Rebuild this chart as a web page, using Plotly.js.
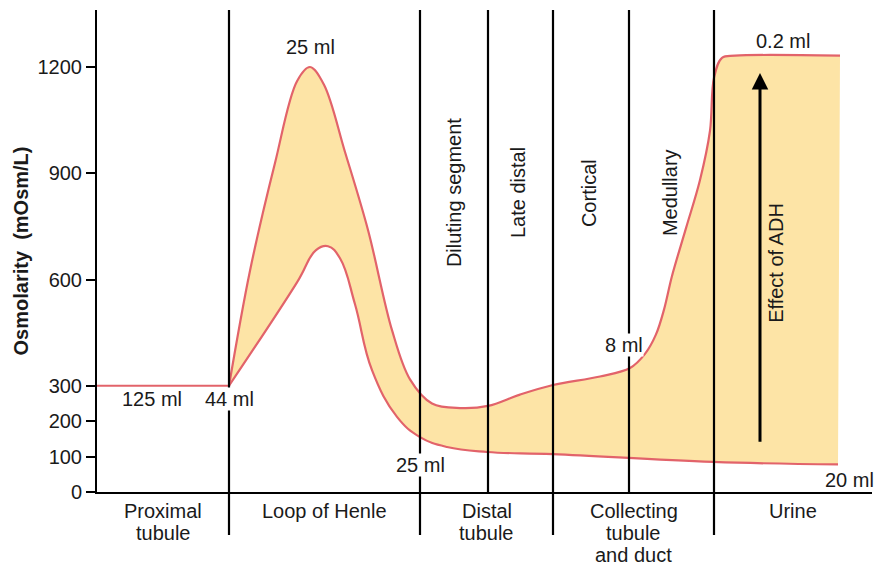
<!DOCTYPE html>
<html>
<head>
<meta charset="utf-8">
<script src="https://cdn.plot.ly/plotly-3.0.1.min.js"></script>
<style>
  html, body { margin: 0; padding: 0; background: #ffffff; }
  #chart { width: 875px; height: 567px; }
</style>
</head>
<body>
<div id="chart"></div>
<script>
// ---- Data (position along nephron in arbitrary units, osmolarity in mOsm/L) ----
const proximalX = [97, 229];
const proximalY = [300, 300];

const upperX = [229, 250, 275, 297, 310, 324, 345, 368, 392, 410, 432, 460, 488, 520, 553, 600, 630, 645, 656, 664, 672, 686, 700, 710, 714, 722, 735, 840];
const upperY = [300, 625, 929, 1160, 1200, 1150, 960, 740, 457, 318, 250, 237, 243, 275, 302, 326, 350, 390, 445, 515, 610, 745, 881, 1020, 1170, 1226, 1232, 1232];

const lowerX = [229, 297, 316, 328, 340, 355, 372, 397, 420, 447, 487, 553, 713, 838];
const lowerY = [300, 592, 683, 694, 660, 530, 344, 212, 155, 127, 113, 107, 85, 78];

const yTicks = [0, 100, 200, 300, 600, 900, 1200];

const segmentBounds = [97, 229, 420, 553, 714, 872];
const segmentLabels = ['Proximal<br>tubule', 'Loop of Henle', 'Distal<br>tubule', 'Collecting<br>tubule<br>and duct', 'Urine'];
const subBounds = [488, 629];

const subLabels = ['Diluting segment', 'Late distal', 'Cortical', 'Medullary'];
const subLabelX = [454, 518, 589, 670];

const volumeLabels = ['25 ml', '125 ml', '44 ml', '25 ml', '8 ml', '0.2 ml', '20 ml'];
const volumeX = [310, 152, 229, 420, 624, 783, 849];
const volumeY = [1256, 262, 262, 76, 415, 1273, 34];

const adhLabel = 'Effect of ADH';
const adhArrowX = 760;
const adhArrowFrom = 138;
const adhArrowTo = 1183;

// ---- Styles ----
const RED = '#e2636a';
const FILL = '#fde4a6';
const INK = '#1a1a1a';
const FONT = 'Liberation Sans, Arial, sans-serif';

const traces = [
  { x: proximalX, y: proximalY, mode: 'lines', line: { color: RED, width: 2.2 }, hoverinfo: 'skip' },
  { x: lowerX, y: lowerY, mode: 'lines', line: { color: RED, width: 2.2, shape: 'spline', smoothing: 1.2 }, hoverinfo: 'skip' },
  { x: upperX, y: upperY, mode: 'lines', fill: 'tonexty', fillcolor: FILL, line: { color: RED, width: 2.2, shape: 'spline', smoothing: 1 }, hoverinfo: 'skip' }
];

const shapes = [];
const majorB = segmentBounds.slice(1, -1);
majorB.forEach(b => shapes.push({ type: 'line', xref: 'x', yref: 'paper', x0: b, x1: b, y0: -0.089, y1: 1, line: { color: '#000', width: 2.2 }, layer: 'above' }));
subBounds.forEach(b => shapes.push({ type: 'line', xref: 'x', yref: 'paper', x0: b, x1: b, y0: 0, y1: 1, line: { color: '#000', width: 2.2 }, layer: 'above' }));

const annotations = [];
// segment labels under the axis
const linePaperY = [-0.040, -0.086, -0.131];
segmentLabels.forEach((lab, i) => {
  const cx = (segmentBounds[i] + segmentBounds[i + 1]) / 2;
  lab.split('<br>').forEach((ln, j) => {
    annotations.push({ text: ln, x: cx, y: linePaperY[j], xref: 'x', yref: 'paper', showarrow: false, xanchor: 'center', yanchor: 'middle', font: { family: FONT, size: 20, color: INK } });
  });
});
// rotated sub-segment labels
subLabels.forEach((lab, i) => {
  annotations.push({ text: lab, x: subLabelX[i], y: 844, xref: 'x', yref: 'y', showarrow: false, textangle: -90, xanchor: 'center', yanchor: 'middle', font: { family: FONT, size: 20, color: INK } });
});
// volume labels
volumeLabels.forEach((lab, i) => {
  annotations.push({ text: lab, x: volumeX[i], y: volumeY[i], xref: 'x', yref: 'y', showarrow: false, xanchor: 'center', yanchor: 'middle', bgcolor: (i === 2 || i === 3 || i === 4) ? '#ffffff' : 'rgba(0,0,0,0)', borderpad: 0, font: { family: FONT, size: 20, color: INK } });
});
// ADH
annotations.push({ text: adhLabel, x: 776, y: 647, xref: 'x', yref: 'y', showarrow: false, textangle: -90, xanchor: 'center', yanchor: 'middle', font: { family: FONT, size: 20, color: INK } });
annotations.push({ text: '', x: adhArrowX, y: adhArrowTo, ax: adhArrowX, ay: adhArrowFrom, xref: 'x', yref: 'y', axref: 'x', ayref: 'y', showarrow: true, arrowhead: 2, arrowsize: 1.1, arrowwidth: 3, arrowcolor: '#000' });

const layout = {
  width: 875, height: 567,
  margin: { l: 97, r: 3, t: 10, b: 75, pad: 0 },
  paper_bgcolor: '#ffffff', plot_bgcolor: '#ffffff',
  showlegend: false,
  xaxis: { range: [97, 872], showline: true, linecolor: '#000', linewidth: 2, showticklabels: false, ticks: '', showgrid: false, zeroline: false, fixedrange: true },
  yaxis: {
    range: [0, 1361], showline: true, linecolor: '#000', linewidth: 2,
    tickvals: yTicks, ticktext: yTicks.map(String), ticks: 'outside', ticklen: 9, tickwidth: 2, tickcolor: '#000',
    tickfont: { family: FONT, size: 20, color: INK },
    showgrid: false, zeroline: false, fixedrange: true,
    title: { text: 'Osmolarity  (mOsm/L)', font: { family: FONT, size: 20, color: INK, weight: 'bold' }, standoff: 4 }
  },
  shapes: shapes,
  annotations: annotations
};

Plotly.newPlot('chart', traces, layout, { displayModeBar: false, staticPlot: true });
</script>
</body>
</html>
